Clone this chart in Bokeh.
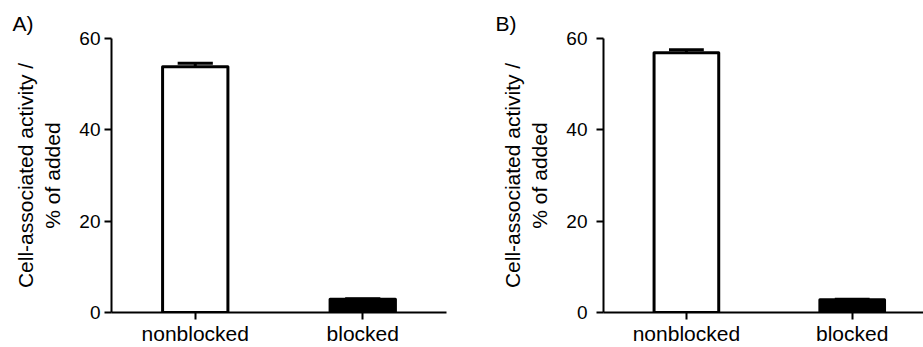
from bokeh.plotting import figure
from bokeh.layouts import row
from bokeh.models import Range1d, FixedTicker, Title
from bokeh.embed import file_html
from bokeh.resources import INLINE

categories = ["nonblocked", "blocked"]
a_means = [53.8, 2.9]
a_errors = [0.8, 0.1]
b_means = [56.9, 2.8]
b_errors = [0.65, 0.1]
bar_fills = ["white", "black"]
y_ticks = [0, 20, 40, 60]

FONT = "Liberation Sans"


def panel(letter, means, errors, width, border_left, border_right, x_end, label_standoff, title_x):
    xs = [i + 0.5 for i in range(len(categories))]
    p = figure(width=width, height=347, output_backend="svg", toolbar_location=None,
               x_range=Range1d(0, x_end), y_range=Range1d(0, 60),
               min_border_left=border_left, min_border_right=border_right,
               min_border_top=38, min_border_bottom=33)
    p.outline_line_color = None
    p.grid.visible = False
    p.background_fill_color = "white"
    p.border_fill_color = "white"

    p.vbar(x=xs, top=means, bottom=0, width=0.39, fill_color=bar_fills,
           line_color="black", line_width=3, line_join="round")
    tops = [m + e for m, e in zip(means, errors)]
    p.segment(x0=xs, y0=means, x1=xs, y1=tops, line_color="black", line_width=3)
    p.segment(x0=[x - 0.105 for x in xs], y0=tops, x1=[x + 0.105 for x in xs], y1=tops,
              line_color="black", line_width=3)

    p.xaxis.ticker = FixedTicker(ticks=xs)
    p.xaxis.major_label_overrides = {x: c for x, c in zip(xs, categories)}
    p.xaxis.minor_tick_line_color = None
    p.xaxis.major_tick_in = 0
    p.xaxis.major_tick_out = 7
    p.xaxis.major_tick_line_width = 2
    p.xaxis.axis_line_width = 2
    p.xaxis.major_label_standoff = 2
    p.xaxis.major_label_text_font = FONT
    p.xaxis.major_label_text_font_size = "21px"
    p.xaxis.major_label_text_color = "black"

    p.yaxis.ticker = FixedTicker(ticks=y_ticks)
    p.yaxis.minor_tick_line_color = None
    p.yaxis.major_tick_in = 0
    p.yaxis.major_tick_out = 7
    p.yaxis.major_tick_line_width = 2
    p.yaxis.axis_line_width = 2
    p.yaxis.major_label_standoff = label_standoff
    p.yaxis.major_label_text_font = FONT
    p.yaxis.major_label_text_font_size = "19px"
    p.yaxis.major_label_text_color = "black"
    p.yaxis.axis_label = "Cell-associated activity /\n% of added"
    p.yaxis.axis_label_text_font = FONT
    p.yaxis.axis_label_text_font_size = "21px"
    p.yaxis.axis_label_text_font_style = "normal"
    p.yaxis.axis_label_text_color = "black"
    p.yaxis.axis_label_standoff = 12

    t = Title(text=letter, align="left", text_font=FONT, text_font_size="21px",
              text_font_style="normal", text_color="black",
              offset=-(border_left - title_x), standoff=8)
    p.add_layout(t, "above")
    return p


pa = panel("A)", a_means, a_errors, 460, 111, 14, 2.0, 4, 12)
pb = panel("B)", b_means, b_errors, 463, 143, 0, 1.93, 9, 35)

layout = row(pa, pb)
open("out.html", "w").write(file_html(layout, INLINE))
